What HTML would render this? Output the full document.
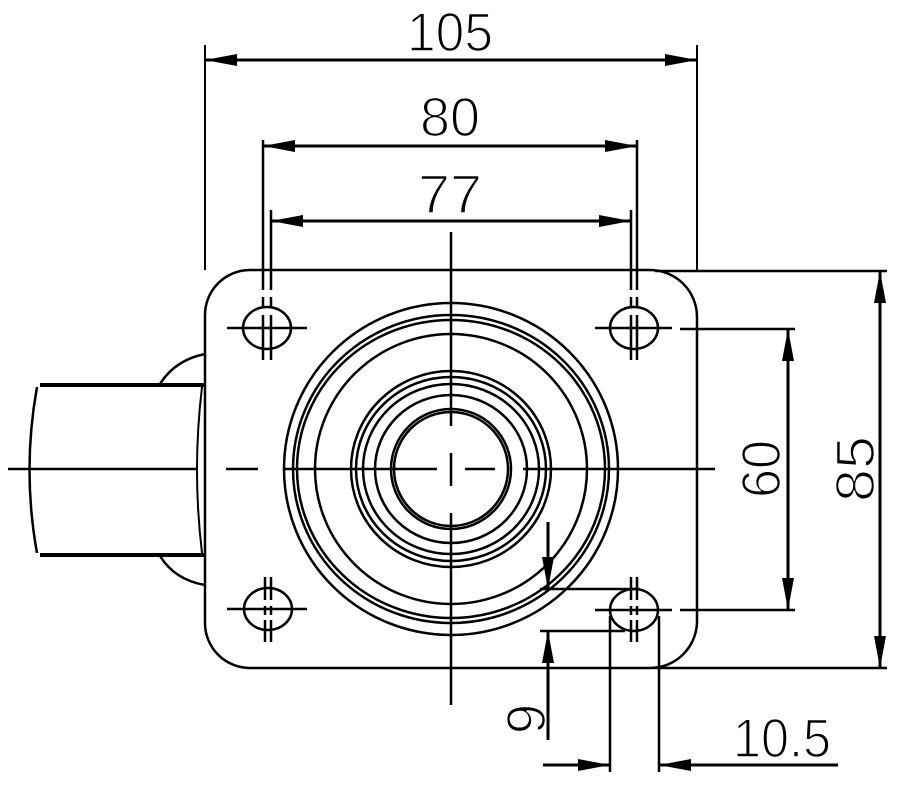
<!DOCTYPE html>
<html><head><meta charset="utf-8"><style>
html,body{margin:0;padding:0;background:#fff;}
svg{display:block;}
text{font-family:"Liberation Sans",sans-serif;fill:#000;stroke:#fff;stroke-width:1.6;}
</style></head><body>
<svg width="913" height="791" viewBox="0 0 913 791" xmlns="http://www.w3.org/2000/svg">
<defs>
<marker id="a" viewBox="0 0 32 12" refX="32" refY="6" markerWidth="32" markerHeight="12" markerUnits="userSpaceOnUse" orient="auto-start-reverse"><path d="M0,0 L32,6 L0,12 Z" fill="#000"/></marker>
</defs>
<g stroke="#000" fill="none" stroke-width="3">
<path d="M250,270 H650 A47,47 0 0 1 697,317 V622 A47,47 0 0 1 650,668 H250 A45,45 0 0 1 205,623 V315 A45,45 0 0 1 250,270 Z" stroke-width="2.5"/>
<line x1="205" y1="45" x2="205" y2="270" stroke-width="2"/>
<line x1="697" y1="45" x2="697" y2="270" stroke-width="2"/>
<line x1="205" y1="60" x2="697" y2="60" marker-start="url(#a)" marker-end="url(#a)"/>
<line x1="263" y1="146" x2="637" y2="146" marker-start="url(#a)" marker-end="url(#a)"/>
<line x1="271" y1="221" x2="631" y2="221" marker-start="url(#a)" marker-end="url(#a)"/>
<g stroke-width="2.5">
<path d="M263,140 V290 M263,297 V308 M263,315 V360 M271,210 V290 M271,297 V308 M271,315 V360"/>
<path d="M631,210 V290 M631,297 V308 M631,315 V360 M637,140 V290 M637,297 V308 M637,315 V360"/>
<path d="M265,577 V600 M265,606 V615 M265,620 V642 M271,577 V600 M271,606 V615 M271,620 V642"/>
<path d="M631,577 V600 M631,606 V615 M631,620 V642 M637,577 V600 M637,606 V615 M637,620 V642"/>
</g>
<g stroke-width="2.5">
<ellipse cx="267" cy="328" rx="24" ry="21"/>
<ellipse cx="634" cy="328" rx="24" ry="21"/>
<ellipse cx="268" cy="609" rx="24" ry="21"/>
<ellipse cx="634" cy="610" rx="24" ry="21"/>
<path d="M227,328 H307 M595,328 H672 M680,329 H795"/>
<path d="M227,609 H307 M595,610 H672 M680,610 H795"/>
</g>
<g stroke-width="2.5">
<ellipse cx="451" cy="469" rx="167" ry="166"/>
<ellipse cx="451" cy="469" rx="158" ry="154"/>
<ellipse cx="451" cy="469" rx="154" ry="149"/>
<ellipse cx="451" cy="469" rx="136" ry="135"/>
<ellipse cx="451" cy="469" rx="100" ry="98"/>
<ellipse cx="451" cy="469" rx="95" ry="92"/>
<ellipse cx="451" cy="469" rx="88" ry="85"/>
<ellipse cx="451" cy="469" rx="76" ry="74"/>
<circle cx="451" cy="469" r="60"/>
<circle cx="451" cy="469" r="57"/>
</g>
<path d="M451,232 V426 M451,453 V486 M451,513 V705" stroke-width="2.5"/>
<path d="M8,469 H197 M226,469 H258 M285,469 H437 M465,469 H495 M523,469 H715" stroke-width="2.5"/>
<path d="M40,385 H205 M40,555 H205" stroke-width="4"/>
<path d="M37,387 Q22,470 37,553" stroke-width="2.5"/>
<path d="M202,387 Q192,470 202,553" stroke-width="2"/>
<path d="M160,384 Q175,360 205,354" stroke-width="2.5"/>
<path d="M160,556 Q175,580 205,585" stroke-width="2.5"/>
<line x1="655" y1="271" x2="887" y2="271" stroke-width="2.5"/>
<line x1="655" y1="668" x2="887" y2="668" stroke-width="2.5"/>
<line x1="788" y1="329" x2="788" y2="610" marker-start="url(#a)" marker-end="url(#a)"/>
<line x1="880" y1="271" x2="880" y2="668" marker-start="url(#a)" marker-end="url(#a)"/>
<path d="M540,589 H640 M540,631 H625" stroke-width="2.5"/>
<line x1="548" y1="522" x2="548" y2="589" marker-end="url(#a)"/>
<line x1="548" y1="740" x2="548" y2="631" marker-end="url(#a)"/>
<path d="M610,616 V772 M659,616 V772" stroke-width="2.5"/>
<line x1="543" y1="765" x2="610" y2="765" marker-end="url(#a)"/>
<line x1="838" y1="765" x2="659" y2="765" marker-end="url(#a)"/>
</g>
<g font-size="55">
<text x="450" y="51" text-anchor="middle" textLength="86" lengthAdjust="spacingAndGlyphs">105</text>
<text x="450" y="136" text-anchor="middle" textLength="60" lengthAdjust="spacingAndGlyphs">80</text>
<text x="450" y="213" text-anchor="middle" textLength="64" lengthAdjust="spacingAndGlyphs">77</text>
<text x="782" y="757" text-anchor="middle" textLength="98" lengthAdjust="spacingAndGlyphs">10.5</text>
<text transform="translate(780,469) rotate(-90)" text-anchor="middle" textLength="58" lengthAdjust="spacingAndGlyphs">60</text>
<text transform="translate(874,469) rotate(-90)" text-anchor="middle" textLength="66" lengthAdjust="spacingAndGlyphs">85</text>
<text transform="translate(545,719) rotate(-90)" text-anchor="middle">9</text>
</g>
</svg>
</body></html>
